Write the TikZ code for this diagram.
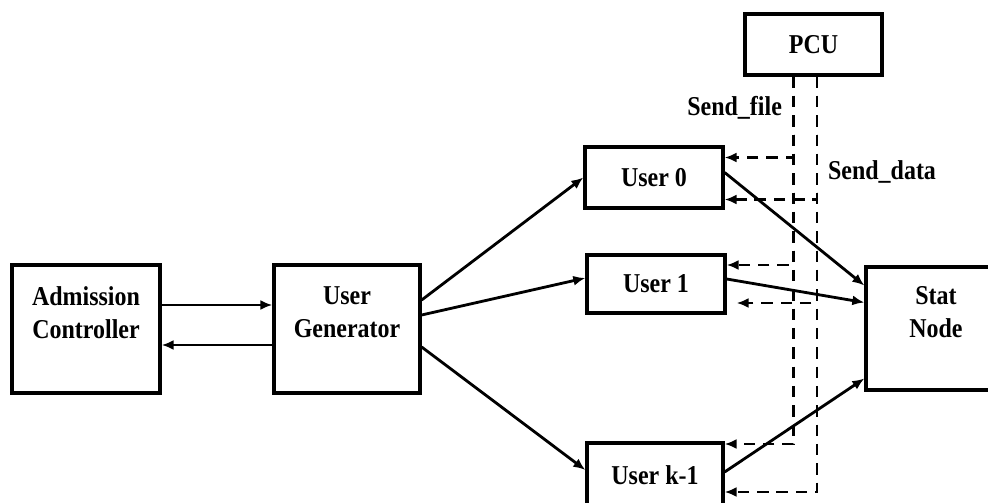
\documentclass[tikz,border=0pt]{standalone}
\usepackage{fontspec}
\setmainfont{Liberation Serif}[FakeStretch=0.88]
\usetikzlibrary{calc,arrows.meta}

\begin{document}
\begin{tikzpicture}[x=0.02cm, y=-0.02cm,
    box/.style={draw, line width=1.9pt, font=\fontsize{15.5}{19}\selectfont\bfseries, align=center, inner sep=0pt},
    lbl/.style={font=\fontsize{15.5}{19}\selectfont\bfseries, inner sep=1pt},
    link/.style={line width=1.6pt, -{Latex[length=2.4mm,width=2mm]}},
    sig/.style={line width=1.7pt, dash pattern=on 6.5pt off 4.5pt, -{Latex[length=2.4mm,width=2mm]}}]
    \useasboundingbox (0,0) rectangle (988,503);

    \node[box, minimum width=2.96cm, minimum height=2.56cm] (ac) at (86,329) {Admission\\Controller\\~};
    \node[box, minimum width=2.92cm, minimum height=2.56cm] (ug) at (347,329) {User\\Generator\\~};
    \node[box, minimum width=2.74cm, minimum height=1.22cm] (pcu) at (813.5,44.5) {PCU};
    \node[box, minimum width=2.76cm, minimum height=1.22cm] (u0) at (654,177.5) {User 0};
    \node[box, minimum width=2.76cm, minimum height=1.16cm] (u1) at (656,284) {User 1};
    \node[box, minimum width=2.72cm, minimum height=1.28cm] (uk) at (655,475) {User k-1};
    \node[box, minimum width=2.8cm, minimum height=2.46cm] (sn) at (936,328.5) {Stat\\Node\\~};

    % admission controller <-> user generator
    \draw[link] ($(ac.east)+(0,-24)$) -- ($(ug.west)+(0,-24)$);
    \draw[link] ($(ug.west)+(0,16)$) -- ($(ac.east)+(0,16)$);

    % user generator -> users
    \draw[link] ($(ug.east)+(0,-29)$) -- (u0.west);
    \draw[link] ($(ug.east)+(0,-14)$) -- ($(u1.west)+(0,-6)$);
    \draw[link] ($(ug.east)+(0,18)$) -- ($(uk.west)+(0,-5)$);

    % users -> stat node
    \draw[link] ($(u0.east)+(0,-5)$) -- ($(sn.west)+(0,-43)$);
    \draw[link] ($(u1.east)+(0,-5)$) -- ($(sn.west)+(0,-26)$);
    \draw[link] ($(uk.east)+(0,-3)$) -- ($(sn.west)+(0,50)$);

    % pcu -> users
    \draw[sig] ($(pcu.south)+(-20,0)$) |- ($(u0.east)+(0,-20)$);
    \draw[sig] ($(pcu.south)+(-20,0)$) |- ($(u1.east)+(0,-19)$);
    \draw[sig] ($(pcu.south)+(-20,0)$) |- ($(uk.east)+(0,-31)$);
    \draw[sig] ($(pcu.south)+(3.5,0)$) |- ($(u0.east)+(0,22)$);
    \draw[sig] ($(pcu.south)+(3.5,0)$) |- ($(u1.east)+(10,19)$);
    \draw[sig] ($(pcu.south)+(3.5,0)$) |- ($(uk.east)+(0,17)$);

    \node[lbl, anchor=east] (sf) at (784,108) {Send\_file};
    \node[lbl, anchor=west] (sd) at (826,172) {Send\_data};
\end{tikzpicture}
\end{document}
